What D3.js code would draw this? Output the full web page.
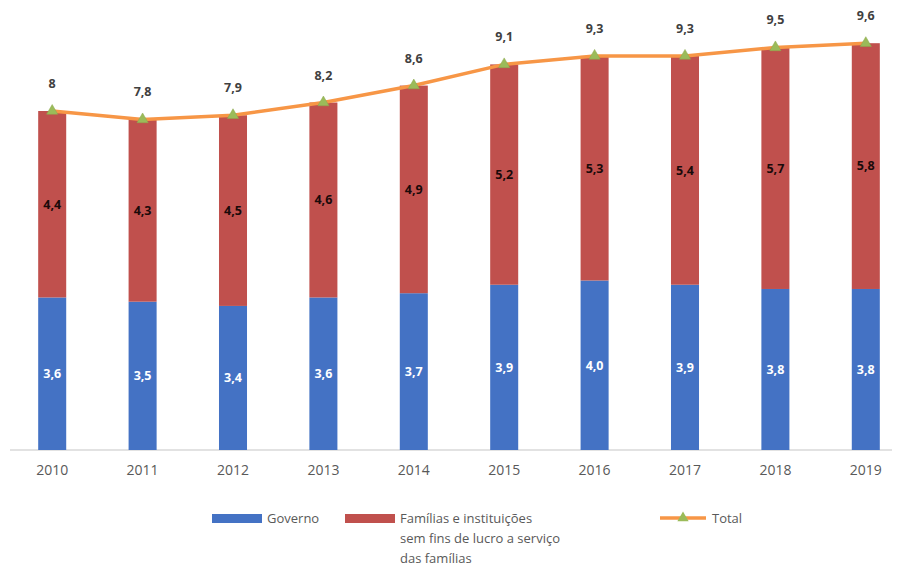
<!DOCTYPE html>
<html><head><meta charset="utf-8">
<script src="https://cdn.jsdelivr.net/npm/d3@7"></script>
<style>body{margin:0;background:#fff}svg{display:block}</style>
</head><body>
<svg id="c" width="902" height="570"></svg>
<script>
const years = ["2010","2011","2012","2013","2014","2015","2016","2017","2018","2019"];
const governo = [3.6,3.5,3.4,3.6,3.7,3.9,4.0,3.9,3.8,3.8];
const familias = [4.4,4.3,4.5,4.6,4.9,5.2,5.3,5.4,5.7,5.8];
const total = [8,7.8,7.9,8.2,8.6,9.1,9.3,9.3,9.5,9.6];
const seriesNames = ["Governo","Famílias e instituições sem fins de lucro a serviço das famílias","Total"];

const svg = d3.select("#c");
const fmt = v => (Number.isInteger(v) ? String(v) : d3.format(".1f")(v).replace(".", ","));
const fmt1 = v => d3.format(".1f")(v).replace(".", ",");

const x = d3.scaleBand().domain(years).range([7, 911]).paddingInner(0.69).paddingOuter(0.345);
const y = d3.scaleLinear().domain([0, 8]).range([450, 111]);
const font = "'Open Sans', 'Noto Sans', sans-serif";

// axis line
const xAxis = d3.axisBottom(x).tickSize(0).tickPadding(15);
const gx = svg.append("g").attr("transform","translate(0,450)").call(xAxis);
gx.select(".domain").attr("stroke","#d9d9d9").attr("stroke-width",1.5).attr("d","M10,0H892");
gx.selectAll("text").attr("font-family",font).attr("font-size",14).attr("fill","#595959");

const bw = x.bandwidth();
// governo bars
svg.append("g").selectAll("rect").data(years).join("rect")
  .attr("x", d => x(d)).attr("width", bw)
  .attr("y", (d,i) => y(governo[i])).attr("height", (d,i) => y(0) - y(governo[i]))
  .attr("fill","#4472C4");
// familias bars
svg.append("g").selectAll("rect").data(years).join("rect")
  .attr("x", d => x(d)).attr("width", bw)
  .attr("y", (d,i) => y(governo[i] + familias[i])).attr("height", (d,i) => y(governo[i]) - y(governo[i]+familias[i]))
  .attr("fill","#C0504D");

// labels in segments
svg.append("g").selectAll("text").data(years).join("text")
  .attr("x", d => x(d) + bw/2).attr("y", (d,i) => (y(0)+y(governo[i]))/2)
  .attr("dy","0.35em").attr("text-anchor","middle")
  .attr("font-family",font).attr("font-size",12.5).attr("font-weight","bold").attr("fill","#fff")
  .text((d,i) => fmt1(governo[i]));
svg.append("g").selectAll("text").data(years).join("text")
  .attr("x", d => x(d) + bw/2).attr("y", (d,i) => (y(governo[i])+y(governo[i]+familias[i]))/2)
  .attr("dy","0.35em").attr("text-anchor","middle")
  .attr("font-family",font).attr("font-size",12.5).attr("font-weight","bold").attr("fill","#1a0a0a")
  .text((d,i) => fmt1(familias[i]));

// total line
const line = d3.line().x((d,i) => x(years[i]) + bw/2).y(d => y(d));
svg.append("path").datum(total).attr("d", line).attr("fill","none")
  .attr("stroke","#F79646").attr("stroke-width",3.5).attr("stroke-linejoin","round");
const tri = d3.symbol().type(d3.symbolTriangle).size(55);
svg.append("g").selectAll("path").data(total).join("path")
  .attr("d", tri).attr("transform",(d,i) => `translate(${x(years[i])+bw/2},${y(d)})`)
  .attr("fill","#9BBB59").attr("stroke","#8aa84e").attr("stroke-width",0.5);
svg.append("g").selectAll("text").data(total).join("text")
  .attr("x",(d,i) => x(years[i]) + bw/2).attr("y", d => y(d) - 23)
  .attr("text-anchor","middle").attr("font-family",font).attr("font-size",12.5)
  .attr("font-weight","bold").attr("fill","#404040")
  .text(d => fmt(d));

// legend
const lg = svg.append("g").attr("font-family",font).attr("font-size",13).attr("fill","#595959");
lg.append("rect").attr("x",212).attr("y",514).attr("width",50).attr("height",9).attr("fill","#4472C4");
lg.append("text").attr("x",267).attr("y",523).text(seriesNames[0]);
lg.append("rect").attr("x",345).attr("y",514).attr("width",50).attr("height",9).attr("fill","#C0504D");
const t2 = lg.append("text").attr("x",400).attr("y",523);
t2.append("tspan").attr("x",400).attr("dy",0).text("Famílias e instituições");
t2.append("tspan").attr("x",400).attr("dy",20).text("sem fins de lucro a serviço");
t2.append("tspan").attr("x",400).attr("dy",20).text("das famílias");
lg.append("line").attr("x1",660).attr("x2",706).attr("y1",518).attr("y2",518).attr("stroke","#F79646").attr("stroke-width",3.5);
lg.append("path").attr("d",tri).attr("transform","translate(683,518)").attr("fill","#9BBB59");
lg.append("text").attr("x",712).attr("y",523).text(seriesNames[2]);
</script>
</body></html>
